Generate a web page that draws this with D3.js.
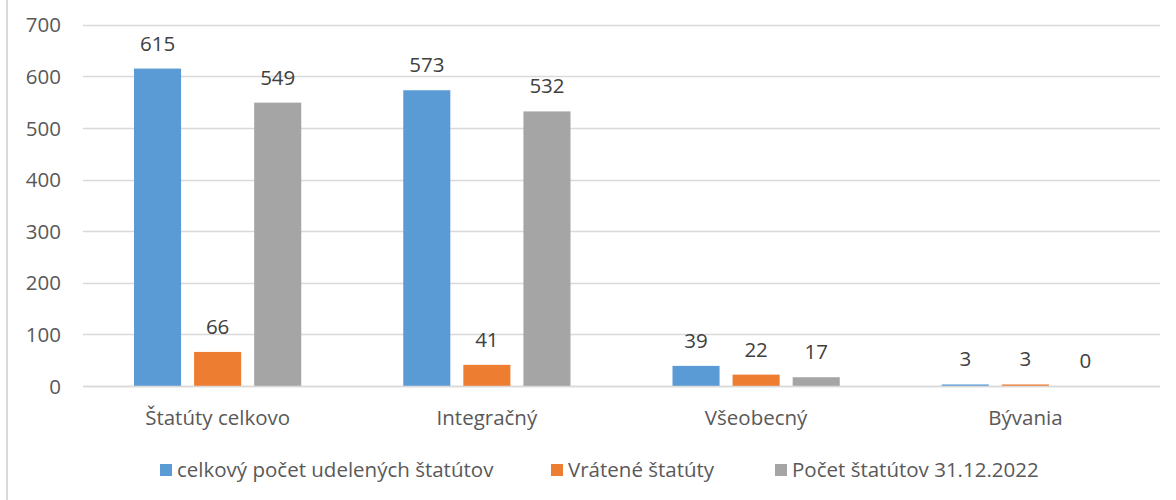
<!DOCTYPE html>
<html><head><meta charset="utf-8">
<script src="https://cdn.jsdelivr.net/npm/d3@7"></script>
<style>body{margin:0;background:#fff}svg{display:block}</style>
</head><body><svg id="c" width="1176" height="500"></svg>
<script>
const categories = ["Štatúty celkovo", "Integračný", "Všeobecný", "Bývania"];
const seriesNames = ["celkový počet udelených štatútov", "Vrátené štatúty", "Počet štatútov 31.12.2022"];
const celkovy = [615, 573, 39, 3];
const vratene = [66, 41, 22, 3];
const pocet = [549, 532, 17, 0];
const yTicks = [0, 100, 200, 300, 400, 500, 600, 700];
const colors = ["#5B9BD5", "#ED7D31", "#A5A5A5"];
const seriesValues = [celkovy, vratene, pocet];

(function() {
const svg = d3.select("#c");
const mLeft = 83, mRight = 1160, mTop = 24.7, mBottom = 386;
const font = "'Open Sans', sans-serif";
const fs = 20.5;

svg.append("line").attr("x1", 7).attr("x2", 7).attr("y1", 0).attr("y2", 500)
  .attr("stroke", "#D9D9D9").attr("stroke-width", 2);

const y = d3.scaleLinear().domain([0, 700]).range([mBottom, mTop]);
const x0 = d3.scaleBand().domain(categories).range([mLeft, mRight]).padding(0);
const x1 = d3.scaleBand().domain(seriesNames.map((d, i) => i))
  .range([51, x0.bandwidth() - 51]).paddingInner(13 / 60).paddingOuter(0);

svg.append("g").selectAll("line").data(yTicks).join("line")
  .attr("x1", mLeft).attr("x2", mRight)
  .attr("y1", d => Math.round(y(d)) + 0.5).attr("y2", d => Math.round(y(d)) + 0.5)
  .attr("stroke", "#D9D9D9").attr("stroke-width", 1.3);

const yAxis = d3.axisLeft(y).tickValues(yTicks).tickSize(0).tickPadding(0);
const ya = svg.append("g").attr("transform", "translate(61,0)").call(yAxis)
  .attr("font-size", fs).attr("font-family", font);
ya.select(".domain").remove();
ya.selectAll("text").attr("fill", "#595959").attr("text-anchor", "end").attr("dy", "0.35em");

const groups = svg.append("g").selectAll("g").data(categories).join("g")
  .attr("transform", d => `translate(${x0(d)},0)`);
groups.each(function(cat, ci) {
  const g = d3.select(this);
  seriesValues.forEach((vals, si) => {
    const v = vals[ci];
    g.append("rect").attr("x", x1(si)).attr("width", x1.bandwidth())
      .attr("y", y(v)).attr("height", Math.max(0, y(0) - y(v)))
      .attr("fill", colors[si]);
    g.append("text").attr("x", x1(si) + x1.bandwidth() / 2).attr("y", y(v) - 18)
      .attr("text-anchor", "middle").attr("font-size", fs).attr("font-family", font)
      .attr("fill", "#404040").text(v);
  });
});

svg.append("line").attr("x1", mLeft).attr("x2", mRight).attr("y1", mBottom + 0.5).attr("y2", mBottom + 0.5)
  .attr("stroke", "#D9D9D9").attr("stroke-width", 1.3);

const xAxis = d3.axisBottom(x0).tickSize(0).tickPadding(0);
const xa = svg.append("g").attr("transform", `translate(0,${mBottom})`).call(xAxis)
  .attr("font-size", fs).attr("font-family", font);
xa.select(".domain").remove();
xa.selectAll("text").attr("fill", "#595959").attr("dy", null).attr("y", 39);

const legendX = [160, 551, 775];
const lg = svg.append("g").selectAll("g").data(seriesNames).join("g")
  .attr("transform", (d, i) => `translate(${legendX[i]},464)`);
lg.append("rect").attr("width", 12).attr("height", 12).attr("fill", (d, i) => colors[i]);
lg.append("text").attr("x", 17).attr("y", 13).attr("font-size", fs).attr("font-family", font)
  .attr("fill", "#595959").text(d => d);
})();
</script></body></html>
